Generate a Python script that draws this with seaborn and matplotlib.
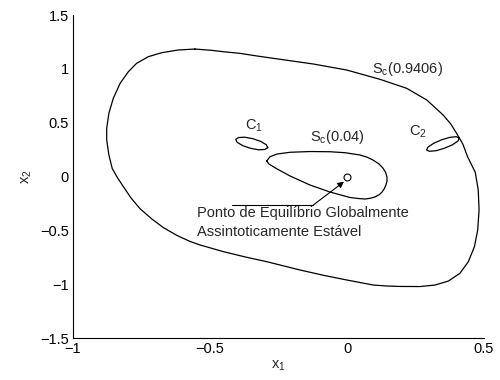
import numpy as np
import pandas as pd
import matplotlib
matplotlib.use("Agg")
import matplotlib.pyplot as plt
import seaborn as sns

# ---- data ----
big_x = [-0.555, -0.616, -0.676, -0.725, -0.768, -0.798, -0.828, -0.853, -0.869, -0.877,
         -0.877, -0.869, -0.857, -0.838, -0.816, -0.788, -0.755, -0.712, -0.670, -0.620,
         -0.573, -0.536, -0.451, -0.370, -0.293, -0.172, -0.085, -0.001, 0.096, 0.145,
         0.193, 0.266, 0.321, 0.370, 0.412, 0.443, 0.465, 0.477, 0.482, 0.479,
         0.468, 0.440, 0.423, 0.400, 0.378, 0.351, 0.291, 0.218, 0.120, -0.001, -0.123, -0.245,
         -0.330, -0.391, -0.451, -0.494]
big_y = [1.184, 1.175, 1.150, 1.113, 1.051, 0.973, 0.866, 0.726, 0.587, 0.448,
         0.339, 0.200, 0.076, -0.010, -0.095, -0.200, -0.300, -0.395, -0.475, -0.548,
         -0.603, -0.636, -0.698, -0.748, -0.791, -0.868, -0.918, -0.961, -1.008, -1.017,
         -1.021, -1.022, -1.008, -0.971, -0.899, -0.791, -0.652, -0.497, -0.311, -0.125,
         0.040, 0.184, 0.300, 0.401, 0.490, 0.571, 0.711, 0.819, 0.903, 0.989, 1.045, 1.089,
         1.120, 1.144, 1.159, 1.172]

small_x = [-0.293, -0.281, -0.255, -0.208, -0.135, -0.062, -0.007, 0.047, 0.073, 0.095,
           0.116, 0.131, 0.141, 0.146, 0.146, 0.142, 0.136, 0.128, 0.117, 0.102,
           0.085, 0.066, 0.040, 0.011, -0.062, -0.135, -0.208, -0.255, -0.285]
small_y = [0.144, 0.184, 0.209, 0.225, 0.232, 0.230, 0.221, 0.200, 0.180, 0.153,
           0.118, 0.079, 0.038, -0.005, -0.042, -0.079, -0.113, -0.144, -0.170, -0.190,
           -0.202, -0.209, -0.204, -0.195, -0.144, -0.079, 0.005, 0.070, 0.116]

c1_x = [-0.289, -0.300, -0.323, -0.352, -0.381, -0.401, -0.406, -0.396, -0.373, -0.343, -0.315, -0.295]
c1_y = [0.268, 0.251, 0.248, 0.262, 0.287, 0.318, 0.345, 0.362, 0.365, 0.351, 0.326, 0.296]

c2_x = [0.410, 0.405, 0.385, 0.356, 0.326, 0.301, 0.290, 0.296, 0.316, 0.345, 0.376, 0.399]
c2_y = [0.357, 0.330, 0.295, 0.263, 0.240, 0.234, 0.247, 0.274, 0.308, 0.341, 0.364, 0.370]

eq_x = [0.0]
eq_y = [0.0]

x_ticks = [-1, -0.5, 0, 0.5]
y_ticks = [-1.5, -1, -0.5, 0, 0.5, 1, 1.5]

# ---- build a long table; close each loop ----
frames = []
for name, xs, ys in [("big", big_x, big_y), ("small", small_x, small_y),
                     ("c1", c1_x, c1_y), ("c2", c2_x, c2_y)]:
    xs2 = list(xs) + [xs[0]]
    ys2 = list(ys) + [ys[0]]
    frames.append(pd.DataFrame({"x": xs2, "y": ys2, "curve": name,
                                "order": range(len(xs2))}))
df = pd.concat(frames, ignore_index=True)

sns.set_theme(style="white")
plt.rcParams["font.family"] = ["Liberation Sans", "DejaVu Sans"]
plt.rcParams["mathtext.fontset"] = "custom"
plt.rcParams["mathtext.rm"] = "Liberation Sans"
plt.rcParams["mathtext.it"] = "Liberation Sans"
plt.rcParams["mathtext.default"] = "regular"

fig = plt.figure(figsize=(5, 3.8), dpi=100)
ax = fig.add_axes([0.146, 0.1105, 0.822, 0.85])

sns.lineplot(data=df, x="x", y="y", units="curve", estimator=None, sort=False,
             color="black", linewidth=0.9, ax=ax, solid_joinstyle="round")

ax.plot(eq_x, eq_y, marker="o", markersize=5, markerfacecolor="white",
        markeredgecolor="black", markeredgewidth=0.8, linestyle="none")

# annotation: horizontal leader + arrow
ax.plot([-0.421, -0.123], [-0.265, -0.265], color="black", linewidth=0.8)
ax.annotate("", xy=(-0.011, -0.048), xytext=(-0.123, -0.265),
            arrowprops=dict(arrowstyle="-|>", color="black", lw=0.8,
                            mutation_scale=9, shrinkA=0, shrinkB=0))

fs = 10.5
ax.text(-0.549, -0.379, "Ponto de Equilíbrio Globalmente", fontsize=fs, va="baseline")
ax.text(-0.549, -0.550, "Assintoticamente Estável", fontsize=fs, va="baseline")
ax.text(0.090, 0.964, r"$S_c$(0.9406)", fontsize=fs, va="baseline")
ax.text(-0.135, 0.333, r"$S_c$(0.04)", fontsize=fs, va="baseline")
ax.text(-0.372, 0.438, r"$C_1$", fontsize=fs, va="baseline")
ax.text(0.226, 0.376, r"$C_2$", fontsize=fs, va="baseline")

ax.set_xlim(-1, 0.5)
ax.set_ylim(-1.5, 1.5)
ax.set_xticks(x_ticks)
ax.set_yticks(y_ticks)
ax.set_xticklabels(["\u22121", "\u22120.5", "0", "0.5"], fontsize=fs)
ax.set_yticklabels(["\u22121.5", "\u22121", "\u22120.5", "0", "0.5", "1", "1.5"], fontsize=fs)
ax.tick_params(direction="in", length=3, width=0.8, pad=3, colors="black")
ax.set_xlabel(r"$x_1$", fontsize=fs, labelpad=2)
ax.set_ylabel(r"$x_2$", fontsize=fs, labelpad=4)
for s in ["top", "right"]:
    ax.spines[s].set_visible(False)
for s in ["left", "bottom"]:
    ax.spines[s].set_color("black")
    ax.spines[s].set_linewidth(0.8)

fig.savefig("out.png", dpi=100, facecolor="white")
